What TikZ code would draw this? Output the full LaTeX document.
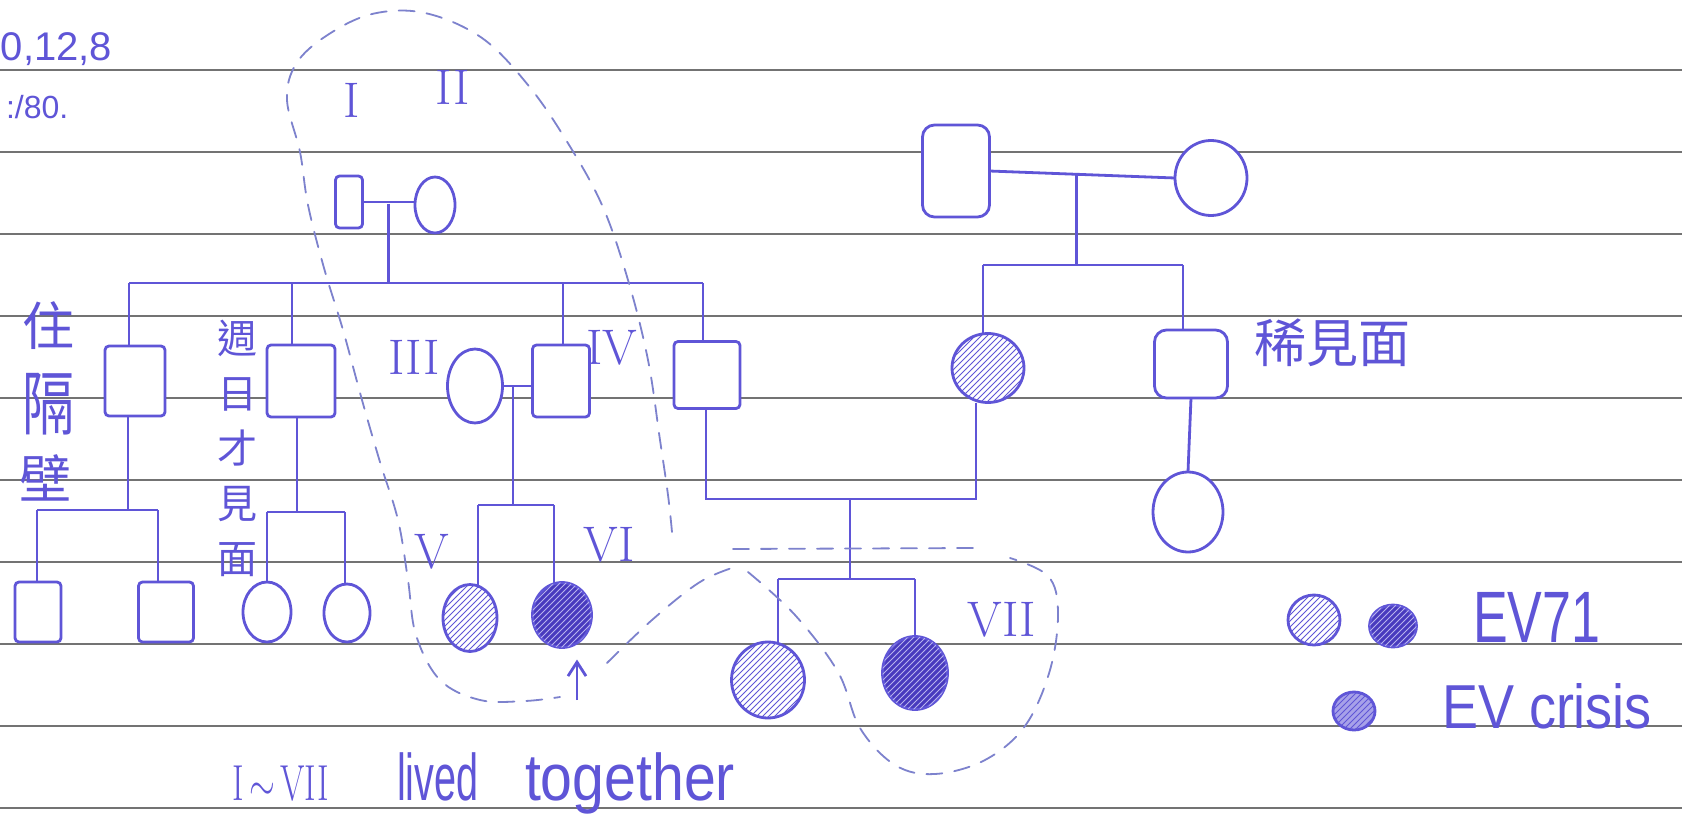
\documentclass[tikz,border=0pt]{standalone}
\usepackage{fontspec}
\newfontfamily\hand{Liberation Sans}
\newfontfamily\cjk{Noto Sans CJK TC}
\usetikzlibrary{shapes.geometric,patterns,calc,arrows.meta}
\definecolor{ink}{RGB}{95,85,215}
\definecolor{inkdark}{RGB}{72,58,190}
\definecolor{lassoc}{RGB}{125,130,205}
\definecolor{paperline}{RGB}{115,115,115}
\begin{document}
\begin{tikzpicture}[x=0.5pt,y=-0.5pt,
  every node/.style={inner sep=0pt,outer sep=0pt},
  penline/.style={draw=ink,line width=1.4pt},
  sq/.style={penline,rectangle,rounded corners=2pt,fill=white},
  ci/.style={penline,ellipse,fill=white},
  hatchlight/.style={ci,postaction={pattern=north east lines,pattern color=ink}},
  hatchmid/.style={ci,fill=ink!55!white,postaction={pattern=north east lines,pattern color=ink}},
  hatchdark/.style={ci,fill=inkdark,postaction={pattern=north east lines,pattern color=ink!45!white}},
  lasso/.style={draw=lassoc,line width=0.9pt,dash pattern=on 8pt off 6pt,line cap=round},
  paper/.style={draw=paperline,line width=0.9pt},
  rn/.style={text=ink,font=\fontsize{25}{25}\selectfont},
  hw/.style={text=ink,font=\hand\fontsize{22}{22}\selectfont},
  zh/.style={text=ink,font=\cjk\fontsize{26}{26}\selectfont},
]
\useasboundingbox (0,0) rectangle (1682,819);
\fill[white] (0,0) rectangle (1682,819);
% ruled paper
\foreach \k in {0,...,9}{\draw[paper] (0,70+82*\k) -- (1682,70+82*\k);}

% ---- generation I
\node[sq,minimum width=13.5pt,minimum height=26pt] (g1m) at (349,202) {};
\node[ci,minimum width=20pt,minimum height=28pt] (g1f) at (435,205) {};
% ---- generation II (children of I)
\node[sq,minimum width=30pt,minimum height=35pt] (c1) at (135,381) {};
\node[sq,minimum width=34pt,minimum height=36pt] (c2) at (301,381) {};
\node[sq,minimum width=28.5pt,minimum height=36pt] (c3) at (561,381) {};
\node[sq,minimum width=33pt,minimum height=33.5pt] (c4) at (707,375) {};
\node[ci,minimum width=27.5pt,minimum height=37pt] (m3) at (475,386) {};
% ---- grandchildren
\node[sq,minimum width=23pt,minimum height=30pt] (gc1) at (38,612) {};
\node[sq,minimum width=27.5pt,minimum height=30pt] (gc2) at (166,612) {};
\node[ci,minimum width=24pt,minimum height=30pt] (gc3) at (267,612) {};
\node[ci,minimum width=23pt,minimum height=29pt] (gc4) at (347,613) {};
\node[hatchlight,minimum width=27pt,minimum height=33.5pt] (p5) at (470,618) {};
\node[hatchdark,minimum width=29.5pt,minimum height=32.5pt] (p6) at (562,615) {};
% ---- right family
\node[sq,rounded corners=6pt,minimum width=33.5pt,minimum height=46pt] (rf) at (956,171) {};
\node[ci,minimum width=36pt,minimum height=37.5pt] (rm) at (1211,178) {};
\node[hatchlight,minimum width=36pt,minimum height=34.5pt] (rd) at (988,368) {};
\node[sq,rounded corners=6pt,minimum width=36.5pt,minimum height=34pt] (rs) at (1191,364) {};
\node[ci,minimum width=35pt,minimum height=40pt] (rgc) at (1188,512) {};
% ---- VII
\node[hatchlight,minimum width=36.5pt,minimum height=38pt] (v7a) at (768,680) {};
\node[hatchdark,minimum width=32.5pt,minimum height=36.5pt] (v7b) at (915,673) {};
% ---- legend
\node[hatchlight,minimum width=26pt,minimum height=25pt] (leg1) at (1314,620) {};
\node[hatchdark,minimum width=23.5pt,minimum height=21pt] (leg2) at (1393,626) {};
\node[hatchmid,minimum width=21pt,minimum height=19pt] (leg3) at (1354,711) {};

% ---- connectors
\draw[penline] (g1m.east) -- (g1m.east -| g1f.west);
\coordinate (g1d) at ($(g1m.east)!0.5!(g1f.west)$);
\coordinate (s1a) at (129,283);
\coordinate (s1b) at (292,283);
\coordinate (s1c) at (563,283);
\coordinate (s1d) at (703,283);
\draw[penline] (g1d) -- (g1d |- s1a);
\draw[penline] (s1a) -- (s1d);
\draw[penline] (s1a) -- (s1a |- c1.north);
\draw[penline] (s1b) -- (s1b |- c2.north);
\draw[penline] (s1c) -- (s1c |- c3.north);
\draw[penline] (s1d) -- (s1d |- c4.north);
% III x IV
\draw[penline] (m3.east) -- (m3.east -| c3.west);
\coordinate (k34) at (513,505);
\coordinate (k5) at (478,505);
\coordinate (k6) at (554,505);
\draw[penline] (k34 |- m3.east) -- (k34);
\draw[penline] (k5) -- (k6);
\draw[penline] (k5) -- (k5 |- p5.north);
\draw[penline] (k6) -- (k6 |- p6.north);
% c1 children
\coordinate (k1) at (128,510);
\coordinate (k1a) at (37,510);
\coordinate (k1b) at (158,510);
\draw[penline] (k1 |- c1.south) -- (k1);
\draw[penline] (k1a) -- (k1b);
\draw[penline] (k1a) -- (k1a |- gc1.north);
\draw[penline] (k1b) -- (k1b |- gc2.north);
% c2 children
\coordinate (k2) at (297,512);
\coordinate (k2a) at (267,512);
\coordinate (k2b) at (345,512);
\draw[penline] (k2 |- c2.south) -- (k2);
\draw[penline] (k2a) -- (k2b);
\draw[penline] (k2a) -- (k2a |- gc3.north);
\draw[penline] (k2b) -- (k2b |- gc4.north);
% c4 x rd
\coordinate (u1) at (706,499);
\coordinate (u2) at (976,499);
\coordinate (u3) at (850,499);
\draw[penline] (u1 |- c4.south) -- (u1) -- (u2) -- (u2 |- rd.south);
\coordinate (w1) at (850,579);
\coordinate (w1a) at (778,579);
\coordinate (w1b) at (915,579);
\draw[penline] (u3) -- (w1);
\draw[penline] (w1a) -- (w1b);
\draw[penline] (w1a) -- (w1a |- v7a.north);
\draw[penline] (w1b) -- (w1b |- v7b.north);
% right family
\draw[penline] (rf.east) -- (rm.west);
\coordinate (r1m) at ($(rf.east)!0.47!(rm.west)$);
\coordinate (r2) at (983,265);
\coordinate (r3) at (1183,265);
\draw[penline] (r1m) -- (r1m |- r2);
\draw[penline] (r2) -- (r3);
\draw[penline] (r2) -- (r2 |- rd.north);
\draw[penline] (r3) -- (r3 |- rs.north);
\draw[penline] (rs.south) -- (rgc.north);
% proband arrow
\coordinate (pa) at (577,700);
\draw[penline,-{Straight Barb[length=7pt,width=9pt]},shorten >=6pt] (pa) -- (pa |- p6.south);

% ---- dashed enclosures
\draw[lasso] plot[smooth,tension=0.6] coordinates {(672,532) (668,495) (660,440) (648,360) (628,280) (602,205) (566,140) (528,85) (482,38) (425,13) (372,14) (326,36) (296,64) (287,100) (300,152) (308,205) (324,268) (343,330) (362,400) (380,462) (398,520) (408,580) (416,635) (440,680) (480,700) (525,701) (560,697)};
\draw[lasso] plot[smooth,tension=0.6] coordinates {(607,663) (652,620) (700,582) (738,566)};
\draw[lasso] (733,549) -- (977,548);
\draw[lasso] plot[smooth,tension=0.6] coordinates {(748,572) (795,615) (838,672) (860,728) (895,765) (935,774) (985,760) (1025,726) (1050,670) (1058,612) (1048,576) (1010,558)};

% ---- labels
\node[rn] (lI) at (352,100) {I};
\node[rn] (lII) at (453,87) {II};
\node[rn] (lIII) at (414,357) {III};
\node[rn] (lIV) at (612,348) {IV};
\node[rn] (lV) at (432,552) {V};
\node[rn] (lVI) at (609,545) {VI};
\node[rn] (lVII) at (1002,620) {VII};

\node[hw,anchor=base west,font=\hand\fontsize{20}{20}\selectfont] (date) at (1,60) {0,12,8};
\node[hw,anchor=base west,font=\hand\fontsize{16}{16}\selectfont] (time) at (6,118) {:/80.};

\node[zh] (z1) at (48,326) {住};
\node[zh] (z2) at (48,404) {\scalebox{1}[1.35]{隔}};
\node[zh] (z3) at (45,478) {壁};
\node[text=ink,font=\cjk\fontsize{20}{27.5}\selectfont,align=center] (z4) at (237,448) {週\\日\\才\\見\\面};
\node[zh] (z5) at (1332,343) {稀見面};

\node[hw,anchor=west,font=\hand\fontsize{26}{26}\selectfont] (ev) at (1473,617) {\scalebox{1}[1.4]{EV71}};
\node[hw,anchor=west,font=\hand\fontsize{27}{27}\selectfont] (evc) at (1442,706) {\scalebox{1}[1.15]{EV crisis}};

\node[rn,anchor=base west,font=\fontsize{22}{22}\selectfont] (bI) at (232,800) {\scalebox{0.8}[1.15]{I$\,\sim\,$VII}};
\node[hw,anchor=base west] (blived) at (397,800) {\scalebox{0.9}[1.5]{lived}};
\node[hw,anchor=base west] (btog) at (525,800) {\scalebox{1.3}[1.5]{together}};
\end{tikzpicture}
\end{document}
